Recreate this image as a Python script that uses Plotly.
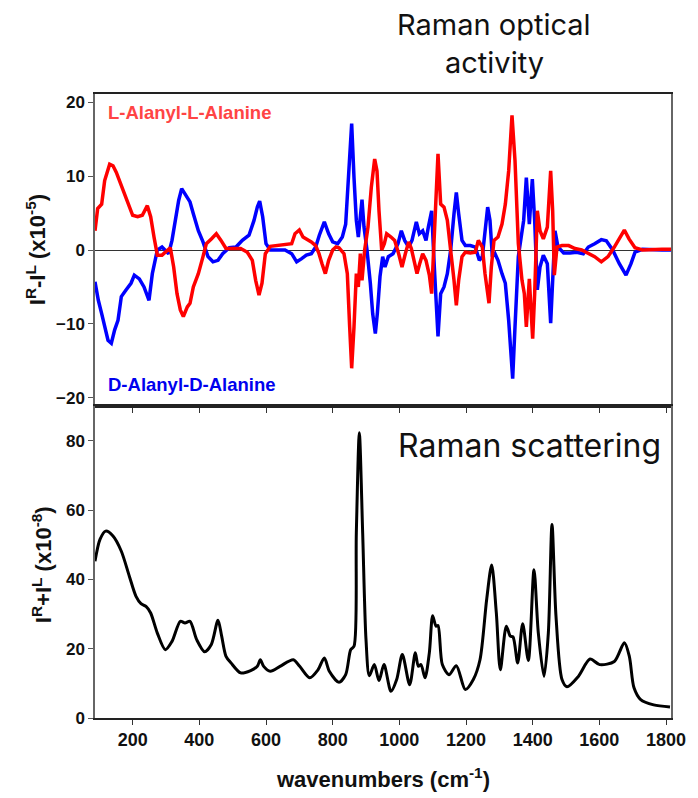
import plotly.graph_objects as go
from plotly.subplots import make_subplots

# ---------------- data ----------------
wn_L = [87, 95, 107, 116, 131, 141, 151, 166, 185, 200, 215, 229, 244, 254, 264, 274, 288, 303, 313, 323,
        333, 343, 352, 364, 372, 382, 397, 411, 421, 436, 451, 465, 480, 500, 524, 544, 559, 569, 579, 588,
        598, 613, 637, 657, 677, 687, 700, 711, 723, 736, 749, 759, 768, 778, 788, 800, 810, 819, 834, 844,
        851, 857, 864, 871, 877, 883, 888, 896, 906, 916, 926, 933, 939, 947, 955, 962, 975, 986, 998, 1008,
        1018, 1028, 1036, 1045, 1053, 1061, 1070, 1080, 1090, 1097, 1105, 1111, 1116, 1124, 1134, 1144, 1154,
        1164, 1171, 1178, 1188, 1198, 1213, 1228, 1237, 1249, 1257, 1269, 1276, 1284, 1296, 1308, 1318, 1328,
        1338, 1347, 1357, 1368, 1375, 1381, 1390, 1400, 1406, 1414, 1422, 1432, 1444, 1454, 1460, 1465, 1473,
        1488, 1508, 1527, 1547, 1567, 1586, 1606, 1626, 1645, 1662, 1675, 1689, 1707, 1729, 1758, 1788, 1815]
roa_L = [2.6, 5.6, 6.2, 9.4, 11.6, 11.4, 10.5, 8.7, 6.2, 4.7, 4.5, 4.7, 6.0, 4.5, 1.75, -0.7, -0.7, 0, 0.3, -2.3,
         -5.9, -8.1, -9.0, -7.7, -7.2, -5.0, -3.2, -0.9, 0.85, 1.5, 2.2, 1.3, 0.2, 0.2, 0.2, -0.3, -1.4, -4.1, -6.1, -4.5,
         -0.5, 0.5, 0.6, 0.75, 0.85, 2.2, 2.7, 1.75, 1.5, 1.1, 0.6, -0.5, -1.85, -3.2, -1.4, 0, 0.4, 0.3, -0.5, -3.2,
         -10.4, -16.0, -10.4, -3.2, -5.0, -0.5, -4.1, 0, 3.1, 8.5, 12.3, 10.7, 5.3, 0, 0.85, 2.2, 1.75, 1.3, -0.5, -2.3,
         -0.5, 1.1, 0.2, -1.4, -3.2, -1.85, -0.5, -1.4, -3.4, -5.9, 2.2, 8.5, 13.0, 6.2, 5.8, 4.0, 0.4,
         -4.1, -7.5, -4.1, -0.9, -0.3, -0.4, -0.3, 1.3, 0.4, -3.2, -7.2, -2.3, 1.3, 1.75, 3.5, 6.2, 10.7,
         18.2, 12.1, 0.85, -4.1, -5.9, -10.4, -3.9, -12.0, -5.9, 5.3, 2.6, 1.5, 3.1, 10.7, 5.3, -3.4, 0.4,
         0.6, 0.6, 0.2, 0, -0.5, -0.9, -1.6, -0.9, 0.4, 1.75, 2.7, 1.5, 0.3, 0, 0.1, 0.1, 0.1]

wn_D = [87, 97, 107, 116, 126, 136, 146, 156, 166, 180, 195, 205, 220, 234, 249, 259, 274, 288, 298, 308,
        318, 328, 338, 347, 357, 372, 382, 397, 411, 426, 441, 456, 470, 490, 510, 529, 549, 564, 574, 581,
        590, 600, 613, 637, 657, 677, 692, 706, 721, 736, 749, 760, 775, 788, 800, 815, 829, 839, 847, 857,
        864, 871, 877, 883, 888, 894, 903, 913, 920, 928, 934, 942, 950, 957, 967, 981, 996, 1006, 1016, 1028,
        1038, 1051, 1060, 1070, 1080, 1087, 1097, 1105, 1111, 1116, 1124, 1134, 1144, 1154, 1164, 1171, 1178,
        1188, 1198, 1213, 1228, 1240, 1249, 1257, 1265, 1272, 1279, 1287, 1296, 1308, 1318, 1328, 1340, 1347,
        1357, 1367, 1373, 1381, 1390, 1399, 1406, 1414, 1422, 1432, 1444, 1454, 1460, 1467, 1476, 1493, 1512,
        1532, 1552, 1567, 1586, 1606, 1621, 1640, 1660, 1680, 1695, 1707, 1729, 1758, 1788, 1815]
roa_D = [-4.3, -6.8, -8.6, -10.4, -12.2, -12.6, -10.8, -9.5, -6.3, -5.4, -4.5, -3.4, -3.9, -5.0, -6.8, -3.2, 0, 0.4, 0, -0.5,
         1.3, 4.0, 6.7, 8.3, 7.6, 6.5, 4.9, 2.6, 1.1, -0.9, -1.6, -1.4, -0.5, 0.3, 0.4, 1.3, 2.0, 4.0, 5.8, 6.6,
         4.5, 0.85, 0, 0, 0, -0.5, -1.6, -1.2, -0.7, -0.5, 0.4, 2.0, 3.8, 2.2, 1.1, 0.85, 1.75, 3.5, 9.8, 17.1,
         9.8, 4.0, 1.75, 4.0, 6.8, 3.1, 0, -4.5, -8.6, -11.3, -8.6, -3.6, -0.9, -2.3, -0.9, -0.5, 0.85, 2.6, 1.3, 0.4,
         1.3, 3.8, 2.2, 2.6, 1.3, 3.1, 5.3, -2.3, -8.1, -11.7, -5.9, -5.0, -3.2, 0, 4.9, 7.8, 4.9,
         1.3, 0.6, 0.6, 0.4, -1.4, -0.9, 2.2, 5.8, 4.0, -0.9, -0.5, -1.4, -3.2, -4.5, -9.5, -17.4, -10.4,
         -0.9, 2.2, 4.0, 9.8, 3.5, 9.6, 4.0, -5.4, -2.3, -0.7, -1.85, -9.9, -4.1, 2.6, 0.4, -0.4, -0.4,
         -0.3, -0.5, 0.4, 0.85, 1.4, 1.25, 0, -1.85, -3.4, -1.85, -0.3, 0.1, 0, 0, 0]

wn_raman = [87, 102, 119, 141, 166, 190, 210, 225, 240, 254, 274, 298, 318, 343, 357, 372, 392, 416, 436, 456,
            467, 480, 495, 524, 554, 574, 583, 593, 613, 642, 682, 701, 731, 756, 775, 790, 819, 839, 854, 864,
            871, 880, 890, 900, 910, 925, 939, 954, 975, 992, 1009, 1031, 1048, 1057, 1065, 1077, 1090, 1100,
            1110, 1116, 1129, 1149, 1171, 1198, 1222, 1242, 1262, 1277, 1291, 1303, 1321, 1333, 1341, 1355,
            1370, 1387, 1404, 1417, 1434, 1447, 1458, 1470, 1488, 1503, 1537, 1572, 1601, 1645, 1675, 1690,
            1704, 1724, 1763, 1812]
raman = [45.2, 51.5, 53.9, 52.5, 48.1, 40.9, 35.1, 33.0, 32.2, 30.3, 24.5, 19.7, 22.1, 27.9, 27.4, 27.9, 22.6, 19.1, 21.2, 28.2,
         23.6, 17.8, 15.9, 13.0, 13.7, 14.9, 16.8, 14.9, 13.5, 14.9, 16.8, 14.9, 11.6, 13.9, 17.3, 13.5, 10.3, 12.5, 19.7, 20.7,
         53.4, 82.3, 53.4, 22.6, 12.2, 15.4, 10.8, 15.4, 7.7, 11.1, 18.3, 9.6, 18.8, 14.9, 15.4, 11.6, 18.8, 29.5,
         26.5, 26.7, 15.4, 12.5, 15.1, 8.2, 11.1, 16.8, 34.2, 44.1, 30.3, 13.9, 26.5, 23.6, 23.4, 15.9,
         27.2, 16.6, 42.8, 24.5, 12.0, 24.5, 55.8, 29.3, 11.1, 9.0, 12.0, 17.0, 15.4, 16.3, 21.7, 17.8,
         8.7, 5.3, 3.8, 3.2]

x_ticks = [200, 400, 600, 800, 1000, 1200, 1400, 1600, 1800]
roa_ticks = [-20, -10, 0, 10, 20]
raman_ticks = [0, 20, 40, 60, 80]

# ---------------- figure ----------------
fig = make_subplots(rows=2, cols=1, shared_xaxes=True, vertical_spacing=0)

fig.add_trace(go.Scatter(x=wn_D, y=roa_D, mode="lines", line=dict(color="#0000ff", width=3.5),
                         showlegend=False), row=1, col=1)
fig.add_trace(go.Scatter(x=wn_L, y=roa_L, mode="lines", line=dict(color="#ff0000", width=3.5),
                         showlegend=False), row=1, col=1)
fig.add_trace(go.Scatter(x=wn_raman, y=raman, mode="lines",
                         line=dict(color="#000000", width=3, shape="spline", smoothing=0.8),
                         showlegend=False), row=2, col=1)

bold = "Liberation Sans, Arial"
tick_font = dict(family=bold, size=18, color="#111", weight="bold")
ytick_font = dict(family=bold, size=17, color="#111", weight="bold")

common_x = dict(range=[87, 1815], tickvals=x_ticks, ticks="outside", ticklen=5, tickcolor="#333",
                showline=True, linecolor="#222", linewidth=1.5, mirror=True, showgrid=False, zeroline=False,
                ticklabeloverflow="allow")
fig.update_xaxes(**common_x, showticklabels=False, row=1, col=1)
fig.update_xaxes(**common_x, showticklabels=True, tickfont=tick_font, row=2, col=1)

fig.update_yaxes(range=[-21.1, 21.1], tickvals=roa_ticks, ticks="outside", ticklen=5, tickcolor="#555",
                 showline=True, linecolor="#666", linewidth=1.5, mirror=True, showgrid=False,
                 zeroline=True, zerolinecolor="#333", zerolinewidth=1, tickfont=ytick_font, row=1, col=1)
fig.update_yaxes(range=[0, 90], tickvals=raman_ticks, ticks="outside", ticklen=5, tickcolor="#555",
                 showline=True, linecolor="#666", linewidth=1.5, mirror=True, showgrid=False,
                 zeroline=False, tickfont=ytick_font, row=2, col=1)

title_font = dict(family="Inter, Noto Sans", size=29, color="#111")
annotations = [
    dict(text="Raman optical", xref="paper", yref="paper", x=0.693, y=1.1106,
         xanchor="center", yanchor="middle", showarrow=False, font=title_font),
    dict(text="activity", xref="paper", yref="paper", x=0.693, y=1.0500,
         xanchor="center", yanchor="middle", showarrow=False, font=title_font),
    dict(text="Raman scattering", xref="paper", yref="paper", x=0.754, y=0.436,
         xanchor="center", yanchor="middle", showarrow=False,
         font=dict(family="Inter, Noto Sans", size=32, color="#111")),
    dict(text="<b>L-Alanyl-L-Alanine</b>", xref="paper", yref="paper", x=0.0188, y=0.9696,
         xanchor="left", yanchor="middle", showarrow=False,
         font=dict(family=bold, size=18.5, color="#ff4444")),
    dict(text="<b>D-Alanyl-D-Alanine</b>", xref="paper", yref="paper", x=0.0188, y=0.5337,
         xanchor="left", yanchor="middle", showarrow=False,
         font=dict(family=bold, size=18.5, color="#0000ee")),
    dict(text="<b>I<sup>R</sup>-I<sup>L</sup> (x10<sup>-5</sup>)</b>", xref="paper", yref="paper",
         x=-0.102, y=0.75, xanchor="center", yanchor="middle", textangle=-90, showarrow=False,
         font=dict(family=bold, size=22, color="#111")),
    dict(text="<b>I<sup>R</sup>+I<sup>L</sup> (x10<sup>-8</sup>)</b>", xref="paper", yref="paper",
         x=-0.092, y=0.245, xanchor="center", yanchor="middle", textangle=-90, showarrow=False,
         font=dict(family=bold, size=22, color="#111")),
    dict(text="<b>wavenumbers (cm<sup>-1</sup>)</b>", xref="paper", yref="paper",
         x=0.5, y=-0.096, xanchor="center", yanchor="middle", showarrow=False,
         font=dict(family=bold, size=22, color="#111")),
]

# the page body has an 8px default margin, so the figure is made 8px smaller
fig.update_layout(width=690, height=790, margin=dict(l=87, r=17, t=86, b=80),
                  paper_bgcolor="white", plot_bgcolor="white", annotations=annotations,
                  showlegend=False)

fig.write_html("out.html")
